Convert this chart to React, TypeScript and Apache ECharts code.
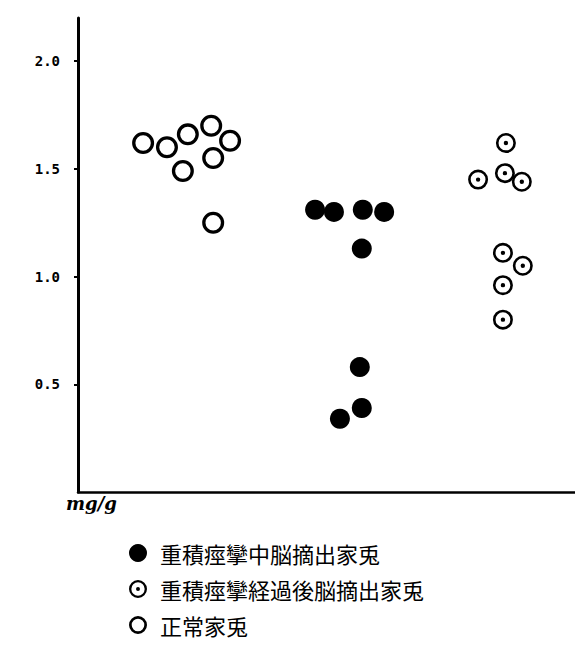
import React, { useEffect, useRef } from "react";
import * as echarts from "echarts";

// Tick labels on the y axis (mg/g)
const yTicks = [0.5, 1.0, 1.5, 2.0];

// Legend / series names
const seriesNames = [
  "重積痙攣中脳摘出家兎",
  "重積痙攣経過後脳摘出家兎",
  "正常家兎",
];

// Positions along the (unlabelled) horizontal axis, 0..100
const seizureX = [47.7, 51.5, 57.3, 61.6, 57.1, 56.7, 57.1, 52.7];
const seizureY = [1.31, 1.30, 1.31, 1.30, 1.13, 0.58, 0.39, 0.34];

const afterX = [86.1, 80.5, 85.9, 89.3, 85.5, 89.5, 85.5, 85.5];
const afterY = [1.62, 1.45, 1.48, 1.44, 1.11, 1.05, 0.96, 0.80];

const normalX = [13.1, 17.9, 22.1, 26.8, 30.6, 27.2, 21.1, 27.2];
const normalY = [1.62, 1.60, 1.66, 1.70, 1.63, 1.55, 1.49, 1.25];

const pair = (xs: number[], ys: number[]) => xs.map((x, i) => [x, ys[i]]);

const RING =
  "path://M10,0A10,10,0,1,1,10,20A10,10,0,1,1,10,0ZM10,3A7,7,0,1,0,10,17A7,7,0,1,0,10,3Z";
const DOT_RING =
  "path://M10,0A10,10,0,1,1,10,20A10,10,0,1,1,10,0ZM10,2.6A7.4,7.4,0,1,0,10,17.4A7.4,7.4,0,1,0,10,2.6ZM10,7.8A2.2,2.2,0,1,1,10,12.2A2.2,2.2,0,1,1,10,7.8Z";

export default function App() {
  const ref = useRef<HTMLDivElement>(null);

  useEffect(() => {
    if (!ref.current) return;
    const chart = echarts.init(ref.current, null, { renderer: "svg" });
    chart.setOption({
      animation: false,
      backgroundColor: "#fff",
      grid: { left: 78, right: 0, top: 18, bottom: 153 },
      xAxis: {
        type: "value",
        min: 0,
        max: 100,
        axisLine: { show: true, lineStyle: { color: "#000", width: 2.5 } },
        axisTick: { show: false },
        axisLabel: { show: false },
        splitLine: { show: false },
      },
      yAxis: {
        type: "value",
        min: 0,
        max: 2.2,
        interval: 0.5,
        axisLine: { show: true, lineStyle: { color: "#000", width: 3 } },
        axisTick: {
          show: true,
          length: 4,
          customValues: yTicks,
          lineStyle: { color: "#000", width: 2 },
        },
        axisLabel: {
          customValues: yTicks,
          formatter: (v: number) => v.toFixed(1),
          margin: 18,
          fontFamily: "DejaVu Sans Mono",
          fontWeight: "bold",
          fontSize: 14,
          color: "#000",
        },
        splitLine: { show: false },
      },
      legend: {
        orient: "vertical",
        left: 129,
        top: 542,
        height: 98,
        padding: 0,
        itemWidth: 18,
        itemHeight: 18,
        itemGap: 14,
        textStyle: {
          fontFamily: "Noto Sans CJK JP",
          fontSize: 22,
          lineHeight: 22,
          color: "#000",
          padding: [0, 0, 0, 8],
        },
        data: [
          { name: seriesNames[0], icon: "circle" },
          { name: seriesNames[1], icon: DOT_RING },
          { name: seriesNames[2], icon: RING },
        ],
      },
      graphic: [
        {
          type: "text",
          left: 66,
          top: 494,
          style: {
            text: "mg/g",
            fontFamily: "DejaVu Serif",
            fontStyle: "italic",
            fontWeight: "bold",
            fontSize: 18,
            fill: "#000",
          },
        },
      ],
      series: [
        {
          name: seriesNames[0],
          type: "scatter",
          symbol: "circle",
          symbolSize: 20,
          itemStyle: { color: "#000", opacity: 1 },
          data: pair(seizureX, seizureY),
        },
        {
          name: seriesNames[1],
          type: "scatter",
          symbol: DOT_RING,
          symbolSize: 20,
          itemStyle: { color: "#000", opacity: 1 },
          data: pair(afterX, afterY),
        },
        {
          name: seriesNames[2],
          type: "scatter",
          symbol: RING,
          symbolSize: 22,
          itemStyle: { color: "#000", opacity: 1 },
          data: pair(normalX, normalY),
        },
      ],
    });
    return () => chart.dispose();
  }, []);

  return (
    <div
      ref={ref}
      style={{ position: "fixed", left: 0, top: 0, width: 575, height: 645 }}
    />
  );
}
